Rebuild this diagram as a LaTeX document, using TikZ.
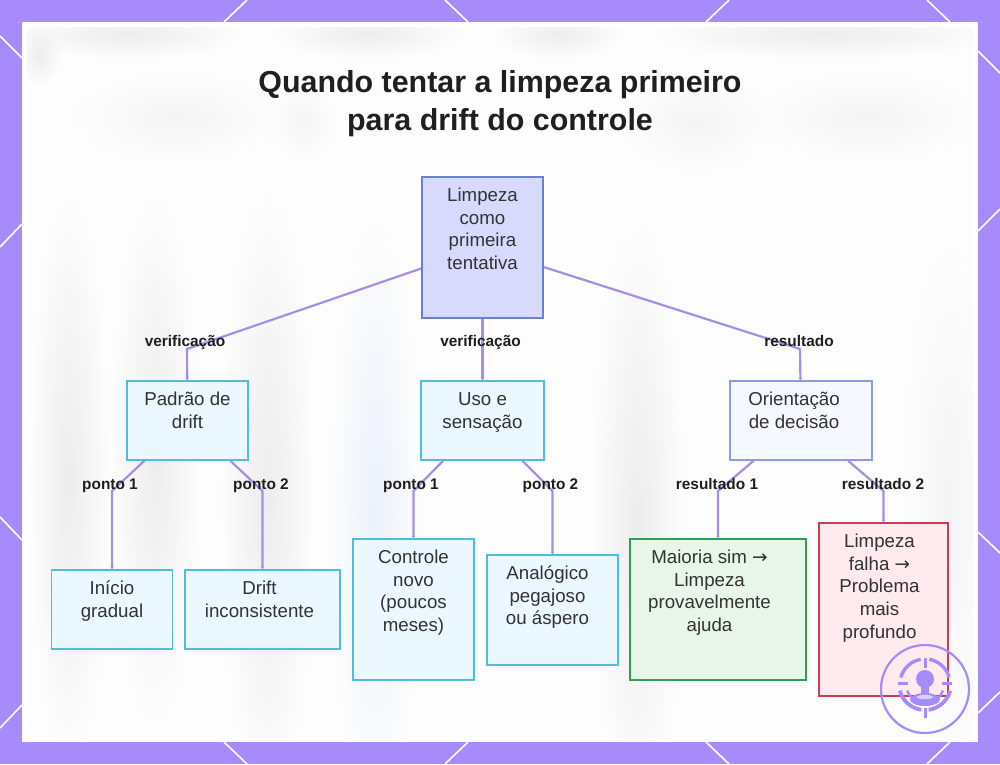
\documentclass[tikz,border=0pt]{standalone}
\usepackage{fontspec}
\setmainfont{Liberation Sans}
\newfontfamily\arrowfont{DejaVu Sans}
\usetikzlibrary{arrows.meta,fadings}
\tikzfading[name=softblob,inner color=transparent!0,outer color=transparent!100]
\definecolor{bgpurple}{HTML}{A78BFA}
\definecolor{cardbg}{HTML}{FDFDFD}
\definecolor{edgec}{HTML}{A88DE6}
\definecolor{inkc}{HTML}{333333}
\definecolor{titlec}{HTML}{1F1F1F}
\definecolor{rootfill}{HTML}{D7DAFD}
\definecolor{rootdraw}{HTML}{6C80D2}
\definecolor{cyanfill}{HTML}{ECF8FF}
\definecolor{cyandraw}{HTML}{4FBDDE}
\definecolor{orientfill}{HTML}{F6F8FF}
\definecolor{orientdraw}{HTML}{8C9AE8}
\definecolor{greenfill}{HTML}{E8F5E9}
\definecolor{greendraw}{HTML}{2F9E52}
\definecolor{redfill}{HTML}{FFEBEE}
\definecolor{reddraw}{HTML}{C8404F}
\definecolor{smudge}{HTML}{EDEDED}
\definecolor{smudgel}{HTML}{F5F5F5}
\definecolor{smudgeb}{HTML}{ECF1FC}
\newcommand{\bx}[3]{\kern-#1pt\kern-#1pt\begin{tabular}{@{}c@{}}#3\\[#2pt]\end{tabular}}
\newcommand{\arw}{{\arrowfont\fontsize{18.5}{22.7}\selectfont →}}
\tikzset{
  x=1pt,y=-1pt,
  deco/.style={white,line width=1.6pt},
  basebox/.style={draw,line width=1.6pt,inner sep=0pt,text=inkc,font=\fontsize{18.7}{22.7}\selectfont,anchor=center},
  rootbox/.style={basebox,fill=rootfill,draw=rootdraw},
  cyanbox/.style={basebox,fill=cyanfill,draw=cyandraw},
  orientbox/.style={basebox,fill=orientfill,draw=orientdraw},
  greenbox/.style={basebox,fill=greenfill,draw=greendraw},
  redbox/.style={basebox,fill=redfill,draw=reddraw},
  link/.style={draw=edgec,line width=2.2pt,line join=round,-{Stealth[length=2.5pt,width=3.6pt]}},
  edgelabel/.style={font=\fontsize{15.4}{17}\selectfont\bfseries,text=titlec,inner sep=0pt,anchor=base},
  titletext/.style={font=\fontsize{30.4}{38}\selectfont\bfseries,text=titlec,align=center,inner sep=0pt},
  blob/.style={fill=#1,path fading=softblob},
  icon/.style={draw=bgpurple,line width=2.2pt},
  iconarc/.style={draw=bgpurple,line width=#1},
}
\begin{document}
\begin{tikzpicture}
\useasboundingbox (0,0) rectangle (1000,764);
% frame
\fill[bgpurple] (0,0) rectangle (1000,764);
\foreach \a/\b/\c/\d in {224/22/247/0,445/0/468/22,706/22/729/0,927/0/950/22,
  0/36/22/58,22/224/0/247,0/517/22/540,22/705/0/728,
  978/51/1000/73,978/231/1000/209,978/532/1000/553,978/713/1000/692,
  224/742/247/764,468/742/445/764,706/742/729/764,950/742/927/764}
  \draw[deco] (\a,\b) -- (\c,\d);
\fill[white] (22,22) rectangle (978,742);
\fill[cardbg] (27,27) rectangle (973,737);
% blurred backdrop
\begin{scope}
\clip (27,27) rectangle (973,737);
\fill[blob=smudge] (15,10) rectangle (240,58);
\fill[blob=smudge] (275,10) rectangle (460,58);
\fill[blob=smudge] (495,10) rectangle (620,58);
\fill[blob=smudge] (655,10) rectangle (995,58);
\fill[blob=smudge] (18,25) rectangle (60,85);
\fill[blob=smudgel] (75,75) rectangle (280,160);
\fill[blob=smudgel] (272,85) rectangle (333,158);
\fill[blob=smudgel] (625,75) rectangle (770,170);
\fill[blob=smudgel] (755,75) rectangle (980,160);
\fill[blob=smudge] (30,200) rectangle (108,760);
\fill[blob=smudge] (112,200) rectangle (198,720);
\fill[blob=smudge] (222,195) rectangle (313,800);
\fill[blob=smudgeb] (332,225) rectangle (418,810);
\fill[blob=smudge] (592,225) rectangle (683,810);
\fill[blob=smudgel] (905,250) rectangle (995,750);
\end{scope}
% connector waypoints
\coordinate (w1) at (187,349);
\coordinate (w2) at (800,349);
\coordinate (p1) at (112,491);
\coordinate (p2) at (262.5,491);
\coordinate (p3) at (413.5,491);
\coordinate (p4) at (552.5,491);
\coordinate (p5) at (718,491);
\coordinate (p6) at (883.5,491);
% title
\node[titletext] (title) at (500,104) {Quando tentar a limpeza primeiro\\para drift do controle};
% boxes
\node[rootbox,minimum width=121pt,minimum height=141pt] (root) at (482.5,247.5) {\bx{0}{33}{Limpeza\\como\\primeira\\tentativa}};
\node[cyanbox,minimum width=121pt,minimum height=79pt] (pad) at (187.5,420.5) {\bx{0}{16}{Padrão de\\drift}};
\node[cyanbox,minimum width=123pt,minimum height=79pt] (uso) at (482.5,420.5) {\bx{0}{16}{Uso e\\sensação}};
\node[orientbox,minimum width=142pt,minimum height=79pt] (ori) at (801,420.5) {\bx{7}{16}{Orientação\\de decisão}};
\node[cyanbox,minimum width=121pt,minimum height=79pt] (ini) at (112,609.5) {\bx{0}{16}{Início\\gradual}};
\node[cyanbox,minimum width=155pt,minimum height=79pt] (dri) at (262.5,609.5) {\bx{3}{16}{Drift\\inconsistente}};
\node[cyanbox,minimum width=121pt,minimum height=141pt] (ctl) at (413.5,609.5) {\bx{0}{33}{Controle\\novo\\(poucos\\meses)}};
\node[cyanbox,minimum width=131pt,minimum height=110pt] (ana) at (552.5,610) {\bx{5}{25}{Analógico\\pegajoso\\ou áspero}};
\node[greenbox,minimum width=176pt,minimum height=141pt] (mai) at (718,609.5) {\bx{8.5}{33}{Maioria sim \arw\\Limpeza\\provavelmente\\ajuda}};
\node[redbox,minimum width=129pt,minimum height=173pt] (fal) at (883.5,609.5) {\bx{4}{42.5}{Limpeza\\falha \arw\\Problema\\mais\\profundo}};
% connectors
\draw[link] (root) -- (w1) -- (pad);
\draw[link] (root) -- (uso);
\draw[link] (root) -- (w2) -- (ori);
\draw[link] (pad) -- (p1) -- (ini);
\draw[link] (pad) -- (p2) -- (dri);
\draw[link] (uso) -- (p3) -- (ctl);
\draw[link] (uso) -- (p4) -- (ana);
\draw[link] (ori) -- (p5) -- (mai);
\draw[link] (ori) -- (p6) -- (fal);
% edge labels
\node[edgelabel] (l1) at (185,346.5) {verificação};
\node[edgelabel] (l2) at (480.5,346.5) {verificação};
\node[edgelabel] (l3) at (799,346.5) {resultado};
\node[edgelabel] (l4) at (110,489.3) {ponto 1};
\node[edgelabel] (l5) at (261,489.3) {ponto 2};
\node[edgelabel] (l6) at (411,489.3) {ponto 1};
\node[edgelabel] (l7) at (550.5,489.3) {ponto 2};
\node[edgelabel] (l8) at (717,489.3) {resultado 1};
\node[edgelabel] (l9) at (883,489.3) {resultado 2};
% icon
\draw[icon] (925,689) circle (44);
\fill[bgpurple] (925,679) circle (9);
\foreach \s/\e in {15/80,100/165}
  \draw[iconarc=3.4pt] plot[domain=\s:\e,samples=14,smooth] ({925+25*cos(\x)},{684-25*sin(\x)});
\foreach \s/\e in {195/262,278/345}
  \draw[iconarc=3.8pt] plot[domain=\s:\e,samples=14,smooth] ({925+26*cos(\x)},{684-26*sin(\x)});
\foreach \s/\e in {200/232,308/340}
  \draw[iconarc=2.4pt] plot[domain=\s:\e,samples=8,smooth] ({925+19*cos(\x)},{684-19*sin(\x)});
\draw[iconarc=3pt] (925,658) -- (925,668);
\draw[iconarc=3pt] (925,708) -- (925,718);
\draw[iconarc=3pt] (898,683) -- (908,683);
\draw[iconarc=3pt] (942,683) -- (952,683);
\fill[bgpurple] (921,685) rectangle (929,696);
\fill[bgpurple] (925,699.5) ellipse [x radius=15,y radius=6.5];
\fill[cardbg!60!bgpurple] (925,697) ellipse [x radius=8,y radius=2.2];
\end{tikzpicture}
\end{document}
